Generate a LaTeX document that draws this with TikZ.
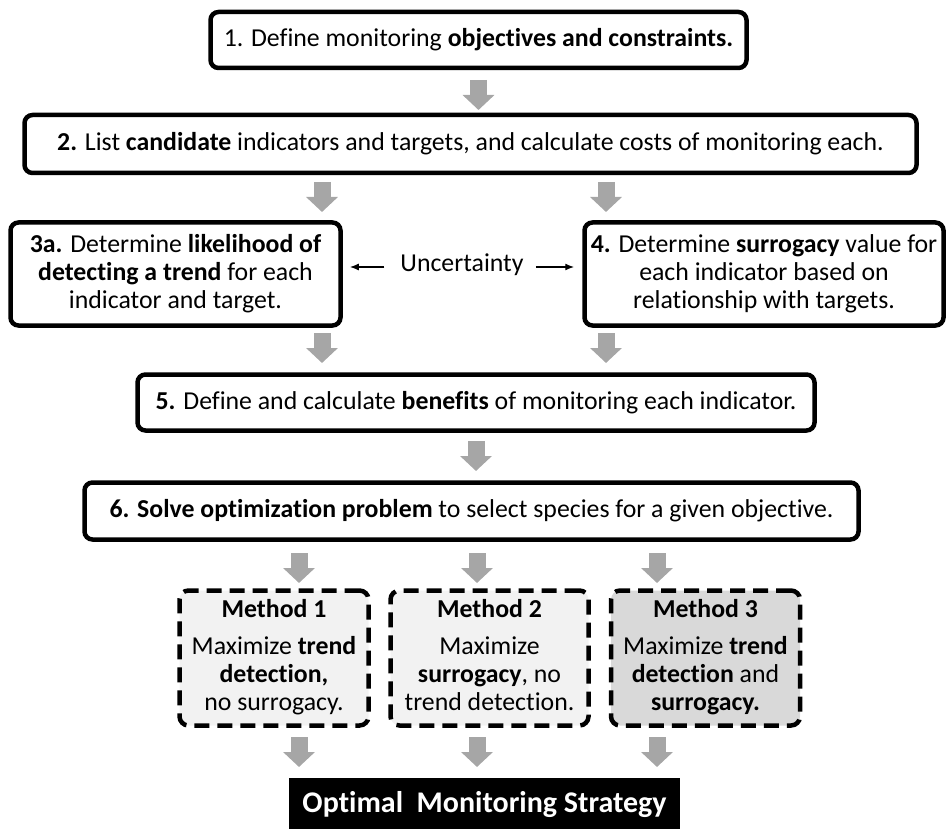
\documentclass[tikz,border=0pt]{standalone}
\usepackage{fontspec}
\setmainfont{Carlito}[RawFeature={-liga}]
\usetikzlibrary{arrows.meta}
\definecolor{arrowgray}{HTML}{A6A6A6}
\definecolor{lightfill}{HTML}{F2F2F2}
\definecolor{midfill}{HTML}{D9D9D9}
\begin{document}
\begin{tikzpicture}[x=1pt,y=-1pt,
  txt/.style={font=\fontsize{25.8}{28}\selectfont, text=black, align=center, inner sep=0pt},
  stepbox/.style={txt, draw=black, line width=4.5pt, rounded corners=8pt, fill=white},
  methodbox/.style={draw=black, line width=4.5pt, rounded corners=9pt,
    dash pattern=on 15pt off 8pt, minimum width=189pt, minimum height=135pt},
  blk/.style={draw=arrowgray, line width=17pt,
    -{Triangle[length=15pt,width=31pt]}},
  thinarrow/.style={draw=black, line width=1.4pt, -{Latex[length=9pt,width=7pt]}}
]
\useasboundingbox (0,0) rectangle (948,829);

% process steps
\node[stepbox, minimum width=536pt, minimum height=56pt] (b1) at (478.5,40)
  {1. Define monitoring \textbf{objectives and constraints.}};
\node[stepbox, minimum width=892pt, minimum height=58pt] (b2) at (470.5,144)
  {\textbf{2.} List \textbf{candidate} indicators and targets, and calculate costs of monitoring each.};
\node[stepbox, minimum width=330pt, minimum height=103pt] (b3) at (175.5,274)
  {\textbf{3a.} Determine \textbf{likelihood of}\\ \textbf{detecting a trend} for each\\ indicator and target.};
\node[stepbox, minimum width=359pt, minimum height=103pt] (b4) at (764,274)
  {\textbf{4.} Determine \textbf{surrogacy} value for\\ each indicator based on\\ relationship with targets.};
\node[stepbox, minimum width=677pt, minimum height=56pt] (b5) at (476,402.5)
  {\textbf{5.} Define and calculate \textbf{benefits} of monitoring each indicator.};
\node[stepbox, minimum width=774pt, minimum height=57pt] (b6) at (471.5,511)
  {\textbf{6. Solve optimization problem} to select species for a given objective.};

% uncertainty between 3a and 4
\node[txt] (unc) at (462,265) {Uncertainty};
\draw[thinarrow] (unc.west) ++(-16,2) coordinate (ul) -- (ul -| b3.east) [shorten >=7pt];
\draw[thinarrow] (unc.east) ++(12,2) coordinate (ur) -- (ur -| b4.west) [shorten >=8pt];

% optimisation methods: dashed frames with their texts
\node[methodbox, fill=lightfill] (m1) at (274,658) {};
\node[methodbox, fill=lightfill, minimum width=198pt] (m2) at (489.5,658) {};
\node[methodbox, fill=midfill] (m3) at (705.5,658) {};
\node[txt, anchor=base] (t1) at (m1.center |- 0,710)
  {\textbf{Method 1}\\[9pt] Maximize \textbf{trend}\\ \textbf{detection,}\\ no surrogacy.};
\node[txt, anchor=base] (t2) at (m2.center |- 0,710)
  {\textbf{Method 2}\\[9pt] Maximize\\ \textbf{surrogacy}, no\\ trend detection.};
\node[txt, anchor=base] (t3) at (m3.center |- 0,710)
  {\textbf{Method 3}\\[9pt] Maximize \textbf{trend}\\ \textbf{detection} and\\ \textbf{surrogacy.}};

% outcome
\node[txt, fill=black, text=white, font=\fontsize{30}{32}\selectfont\bfseries,
  minimum width=391pt, minimum height=54pt] (opt) at (484.5,805)
  {Optimal\ \ Monitoring Strategy};

% block arrows between stages
\coordinate (a1) at (b1.south |- 0,80);
\coordinate (a2l) at (322,182);
\coordinate (a2r) at (606,182);
\coordinate (a3l) at (322,333);
\coordinate (a3r) at (606,333);
\coordinate (a5) at (476,441);
\coordinate (a6a) at (299,553);
\coordinate (a6b) at (477,553);
\coordinate (a6c) at (657,553);
\coordinate (am1) at (299,737);
\coordinate (am2) at (477,737);
\coordinate (am3) at (657,737);
\foreach \c in {a1,a2l,a2r,a3l,a3r,a5,a6a,a6b,a6c,am1,am2,am3}
  \draw[blk] (\c) -- ++(0,30);
\end{tikzpicture}
\end{document}
